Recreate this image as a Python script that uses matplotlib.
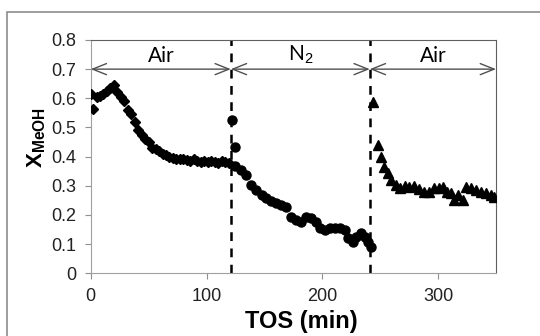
import matplotlib
matplotlib.use("Agg")
import matplotlib.pyplot as plt
from matplotlib.patches import Rectangle

plt.rcParams["font.family"] = ["Liberation Sans", "DejaVu Sans"]
plt.rcParams["mathtext.fontset"] = "custom"
plt.rcParams["mathtext.rm"] = "Liberation Sans"
plt.rcParams["mathtext.bf"] = "Liberation Sans:bold"

# phase 1: air (diamonds)
t_air1 = [0, 2, 5, 8, 11, 14, 17, 20, 23, 26, 29, 32, 35, 38, 41, 44, 47, 50, 53, 56,
          59, 62, 65, 68, 71, 74, 77, 80, 83, 86, 89, 92, 95, 98, 101, 104, 107, 110, 113, 116, 119]
x_air1 = [0.615, 0.562, 0.605, 0.608, 0.614, 0.625, 0.634, 0.645, 0.62, 0.605, 0.59, 0.56,
          0.545, 0.52, 0.49, 0.475, 0.462, 0.45, 0.43, 0.425, 0.418, 0.41, 0.405, 0.4, 0.395,
          0.393, 0.39, 0.392, 0.388, 0.385, 0.39, 0.385, 0.383, 0.386, 0.38, 0.384, 0.382,
          0.379, 0.385, 0.38, 0.377]

# phase 2: N2 (circles)
t_n2 = [122, 124.4, 125, 130, 134.5, 138.8, 143, 147.5, 151.7, 156, 160.3, 164.6, 169, 173,
        177.6, 181.9, 186, 190.5, 194.8, 197.7, 202, 206.3, 210.6, 215, 219.2, 222, 226.4,
        229.3, 233.6, 236.5, 239.4, 242.3]
x_n2 = [0.526, 0.432, 0.366, 0.354, 0.337, 0.303, 0.286, 0.268, 0.257, 0.246, 0.24, 0.234,
        0.228, 0.194, 0.183, 0.177, 0.194, 0.189, 0.177, 0.154, 0.148, 0.154, 0.154, 0.154,
        0.148, 0.12, 0.108, 0.125, 0.137, 0.125, 0.108, 0.091]

# phase 3: air again (triangles)
t_air2 = [244.2, 248, 250.9, 253.7, 256.6, 259.5, 263.8, 266.7, 271, 275.3, 279.6, 283.9,
          288.2, 292.5, 296.8, 301.1, 304, 307.5, 311.3, 313.5, 317, 321.2, 324.1, 328.4,
          332.8, 337, 341.4, 345.7, 348.5]
x_air2 = [0.588, 0.44, 0.4, 0.365, 0.343, 0.32, 0.303, 0.291, 0.3, 0.297, 0.3, 0.288, 0.28,
          0.28, 0.291, 0.291, 0.297, 0.28, 0.274, 0.251, 0.268, 0.251, 0.297, 0.291, 0.286,
          0.28, 0.274, 0.268, 0.26]

switch_times = [121, 241]
phases = [("Air", 0, 121), ("N$_2$", 121, 241), ("Air", 241, 350)]

fig = plt.figure(figsize=(5.4, 3.36), dpi=100)
fig.patches.append(Rectangle((7 / 540, -0.05), 2, 1 - 12 / 336 + 0.05, transform=fig.transFigure,
                             fill=False, edgecolor="#8c8c8c", linewidth=1.2))
ax = fig.add_axes([0.168, 0.187, 0.7505, 0.694])

ax.plot(t_air1, x_air1, "D", color="black", markersize=5.5, zorder=3)
ax.plot(t_n2, x_n2, "o", color="black", markersize=6.5, zorder=3)
ax.plot(t_air2, x_air2, "^", color="black", markersize=6.5, zorder=3)

for xs in switch_times:
    ax.axvline(xs, color="black", linewidth=1.8, linestyle=(0, (3.5, 3)), zorder=2)

for name, a, b in phases:
    ax.annotate("", xy=(a, 0.7), xytext=(b, 0.7),
                arrowprops=dict(arrowstyle="<->,head_length=1.0,head_width=0.4",
                                color="#505050", lw=1, shrinkA=0, shrinkB=0))
    ax.text((a + b) / 2, 0.712, name, ha="center", va="bottom", fontsize=15,
            family=["Lato", "DejaVu Sans"])

ax.set_xlim(0, 350)
ax.set_ylim(0, 0.8)
ax.set_xticks([0, 100, 200, 300])
ax.set_yticks([0, 0.1, 0.2, 0.3, 0.4, 0.5, 0.6, 0.7, 0.8])
ax.set_yticklabels(["0", "0.1", "0.2", "0.3", "0.4", "0.5", "0.6", "0.7", "0.8"])
ax.tick_params(axis="both", direction="out", length=4.5, pad=6, color="#909090",
               labelsize=13, labelcolor="#222222")

for side in ["left", "bottom"]:
    ax.spines[side].set_color("#a0a0a0")
for side in ["top", "right"]:
    ax.spines[side].set_color("#606060")

ax.set_xlabel("TOS (min)", fontsize=17, fontweight="bold")
ax.xaxis.set_label_coords(0.52, -0.16)
ax.set_ylabel(r"$\mathbf{X}_{\mathbf{MeOH}}$", fontsize=16)
ax.yaxis.set_label_coords(-0.105, 0.58)

fig.savefig("out.png", dpi=100)
